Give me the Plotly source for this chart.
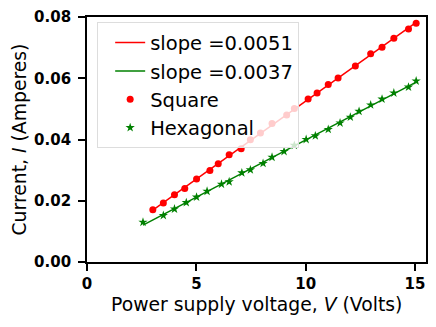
import numpy as np
import plotly.graph_objects as go

# Square sample: voltage (V) and current (A)
square_v = [3.01, 3.49, 4.00, 4.47, 5.01, 5.62, 6.00, 6.50, 7.05, 7.47, 7.93, 8.46,
            9.13, 9.48, 10.11, 10.52, 11.03, 11.48, 12.27, 12.97, 13.49, 14.03, 14.70, 15.05]
square_i = [0.0171, 0.0193, 0.0220, 0.0240, 0.0271, 0.0299, 0.0321, 0.0350, 0.0370, 0.0399,
            0.0421, 0.0452, 0.0480, 0.0501, 0.0532, 0.0552, 0.0580, 0.0601, 0.0640, 0.0680,
            0.0701, 0.0731, 0.0761, 0.0780]

# Hexagonal sample
hex_v = [2.56, 3.49, 4.00, 4.54, 5.01, 5.49, 6.15, 6.50, 7.08, 7.47, 8.05, 8.46, 9.01,
         9.48, 10.02, 10.44, 11.03, 11.57, 12.04, 12.44, 12.97, 13.49, 14.03, 14.70, 15.05]
hex_i = [0.0130, 0.0152, 0.0173, 0.0194, 0.0212, 0.0231, 0.0254, 0.0262, 0.0291, 0.0301,
         0.0322, 0.0342, 0.0361, 0.0381, 0.0400, 0.0412, 0.0433, 0.0454, 0.0473, 0.0492,
         0.0513, 0.0532, 0.0552, 0.0571, 0.0591]

x_ticks = [0, 5, 10, 15]
y_ticks = [0.00, 0.02, 0.04, 0.06, 0.08]

RED = '#ff0000'
GREEN = '#008000'
FONT = 'DejaVu Sans'


def fit_line(x, y):
    """Least-squares straight line through the measured points"""
    m, c = np.polyfit(x, y, 1)
    xs = np.array([min(x), max(x)])
    return xs, m * xs + c, m


sq_x, sq_y, sq_m = fit_line(square_v, square_i)
hx_x, hx_y, hx_m = fit_line(hex_v, hex_i)

fig = go.Figure()

fig.add_trace(go.Scatter(
    x=sq_x, y=sq_y, mode='lines', name=f'slope ={sq_m:.4f}',
    line=dict(color=RED, width=1.5), legendgroup='a'
))
fig.add_trace(go.Scatter(
    x=hx_x, y=hx_y, mode='lines', name=f'slope ={hx_m:.4f}',
    line=dict(color=GREEN, width=1.5), legendgroup='b'
))
fig.add_trace(go.Scatter(
    x=square_v, y=square_i, mode='markers', name='Square',
    marker=dict(color=RED, size=7, symbol='circle'), legendgroup='c'
))
fig.add_trace(go.Scatter(
    x=hex_v, y=hex_i, mode='markers', name='Hexagonal',
    marker=dict(color=GREEN, size=7, symbol='star'), legendgroup='d'
))

axis_style = dict(
    showgrid=False,
    zeroline=False,
    showline=True,
    linecolor='black',
    linewidth=1.8,
    mirror=True,
    ticks='outside',
    ticklen=7,
    tickwidth=1.8,
    tickcolor='black',
    automargin=False,
    ticklabeloverflow='allow',
    tickfont=dict(size=15, color='black', family=FONT, weight='bold'),
)

# the page puts the figure 8px in from the top-left corner, so the
# figure is 8px smaller than the window and the margins are trimmed to match
fig.update_layout(
    width=428,
    height=319,
    margin=dict(l=79, r=10, t=9, b=65),
    paper_bgcolor='white',
    plot_bgcolor='white',
    font=dict(family=FONT, color='black', size=16),
    xaxis=dict(
        range=[0, 15.5],
        tickvals=x_ticks,
        ticktext=[str(v) for v in x_ticks],
        **axis_style
    ),
    yaxis=dict(
        range=[0, 0.08],
        tickvals=y_ticks,
        ticktext=[f'{v:.2f}' for v in y_ticks],
        ticklabelstandoff=4,
        **axis_style
    ),
    legend=dict(
        x=0.03, y=0.978, xanchor='left', yanchor='top',
        bgcolor='rgba(255,255,255,0.8)',
        bordercolor='#dddddd',
        borderwidth=1,
        font=dict(size=19.5, family=FONT),
        tracegroupgap=0,
        indentation=12,
    ),
    showlegend=True,
)

# axis titles placed as annotations so the plot area stays fixed
fig.add_annotation(
    text='Power supply voltage, <i>V</i> (Volts)',
    xref='paper', yref='paper', x=0.5, y=0, yshift=-42,
    xanchor='center', yanchor='middle', showarrow=False,
    font=dict(size=18.8, family=FONT, color='black'),
)
fig.add_annotation(
    text='Current, <i>I</i> (Amperes)',
    xref='paper', yref='paper', x=0, y=0.5, xshift=-68,
    xanchor='center', yanchor='middle', showarrow=False, textangle=-90,
    font=dict(size=18.8, family=FONT, color='black'),
)

fig.write_html("out.html")
